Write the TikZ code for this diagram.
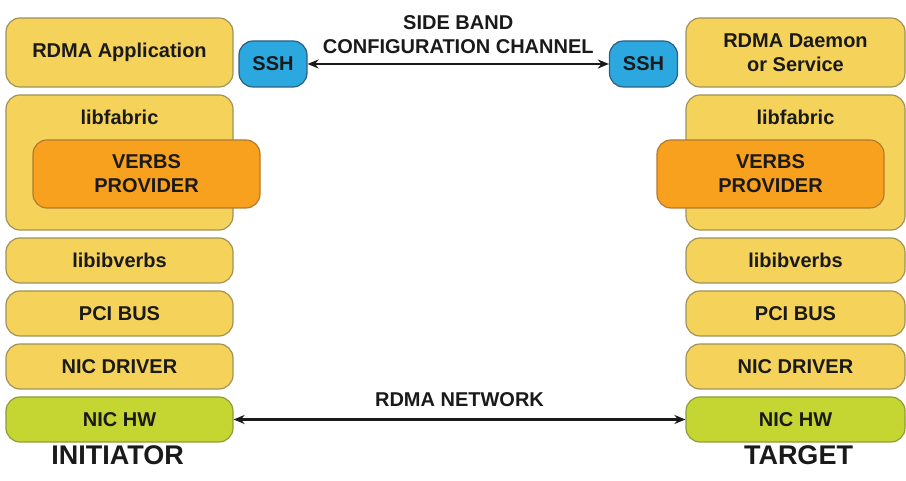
\documentclass[tikz,border=0pt]{standalone}
\usepackage{fontspec}
\setmainfont{Liberation Sans}
\usetikzlibrary{arrows.meta,positioning}
\definecolor{layerfill}{HTML}{F5D35A}
\definecolor{layerdraw}{HTML}{A09258}
\definecolor{provfill}{HTML}{F7A11F}
\definecolor{provdraw}{HTML}{B37A30}
\definecolor{sshfill}{HTML}{2BA8DF}
\definecolor{sshdraw}{HTML}{2E5F7E}
\definecolor{hwfill}{HTML}{C5D532}
\definecolor{hwdraw}{HTML}{8C9B3E}
\definecolor{inkcol}{HTML}{1A1A1A}
\tikzstyle{layer}=[draw=layerdraw,fill=layerfill,rounded corners=14pt,line width=1.2pt,
                   minimum height=45pt,inner sep=2pt,align=center,text=inkcol,
                   font=\bfseries\fontsize{20}{24}\selectfont]
\tikzstyle{layerL}=[layer,minimum width=227pt]
\tikzstyle{layerR}=[layer,minimum width=219pt]
\tikzstyle{prov}=[layer,draw=provdraw,fill=provfill,minimum width=227pt,minimum height=68pt]
\tikzstyle{ssh}=[layer,draw=sshdraw,fill=sshfill,minimum width=68pt,minimum height=46pt]
\tikzstyle{hw}=[draw=hwdraw,fill=hwfill]
\tikzstyle{note}=[font=\bfseries\fontsize{20}{24}\selectfont,align=center,text=inkcol]
\tikzstyle{side}=[font=\bfseries\fontsize{27}{30}\selectfont,text=inkcol]
\tikzstyle{link}=[draw=inkcol,{Stealth[length=11pt,width=9pt]}-{Stealth[length=11pt,width=9pt]},line width=2.2pt]

\begin{document}
\begin{tikzpicture}[x=1pt,y=1pt,node distance=6.8pt]
\path[use as bounding box] (0,0) rectangle (906,481);

% initiator stack
\node[layerL,minimum height=69pt] (appL) at (119.5,428.5) {RDMA Application};
\node[layerL,minimum height=135pt,below=of appL,
      label={[note,anchor=north,yshift=-12pt]north:libfabric}] (fabL) {};
\node[prov] (verbsL) at ([xshift=27pt,yshift=-11.5pt]fabL.center) {VERBS\\PROVIDER};
\node[layerL,below=of fabL] (ibvL) {libibverbs};
\node[layerL,below=of ibvL] (pciL) {PCI BUS};
\node[layerL,below=of pciL] (drvL) {NIC DRIVER};
\node[layerL,hw,below=of drvL] (hwL) {NIC HW};
\node[side,below=0pt of hwL,xshift=-2pt] (initL) {INITIATOR};

% target stack
\node[layerR,minimum height=69pt] (appR) at (795.5,428.5) {RDMA Daemon\\or Service};
\node[layerR,minimum height=135pt,below=of appR,
      label={[note,anchor=north,yshift=-12pt]north:libfabric}] (fabR) {};
\node[prov] (verbsR) at ([xshift=-25pt,yshift=-11.5pt]fabR.center) {VERBS\\PROVIDER};
\node[layerR,below=of fabR] (ibvR) {libibverbs};
\node[layerR,below=of ibvR] (pciR) {PCI BUS};
\node[layerR,below=of pciR] (drvR) {NIC DRIVER};
\node[layerR,hw,below=of drvR] (hwR) {NIC HW};
\node[side,below=0pt of hwR,xshift=3pt] (tgtR) {TARGET};

\node[ssh] (sshL) at (273,417) {SSH};
\node[ssh] (sshR) at (643.5,417) {SSH};

\draw[link] (sshL) -- node[note,above=6pt] {SIDE BAND\\CONFIGURATION CHANNEL} (sshR);
\draw[link] (hwL) -- node[note,above=8pt] {RDMA NETWORK} (hwR);
\end{tikzpicture}
\end{document}
